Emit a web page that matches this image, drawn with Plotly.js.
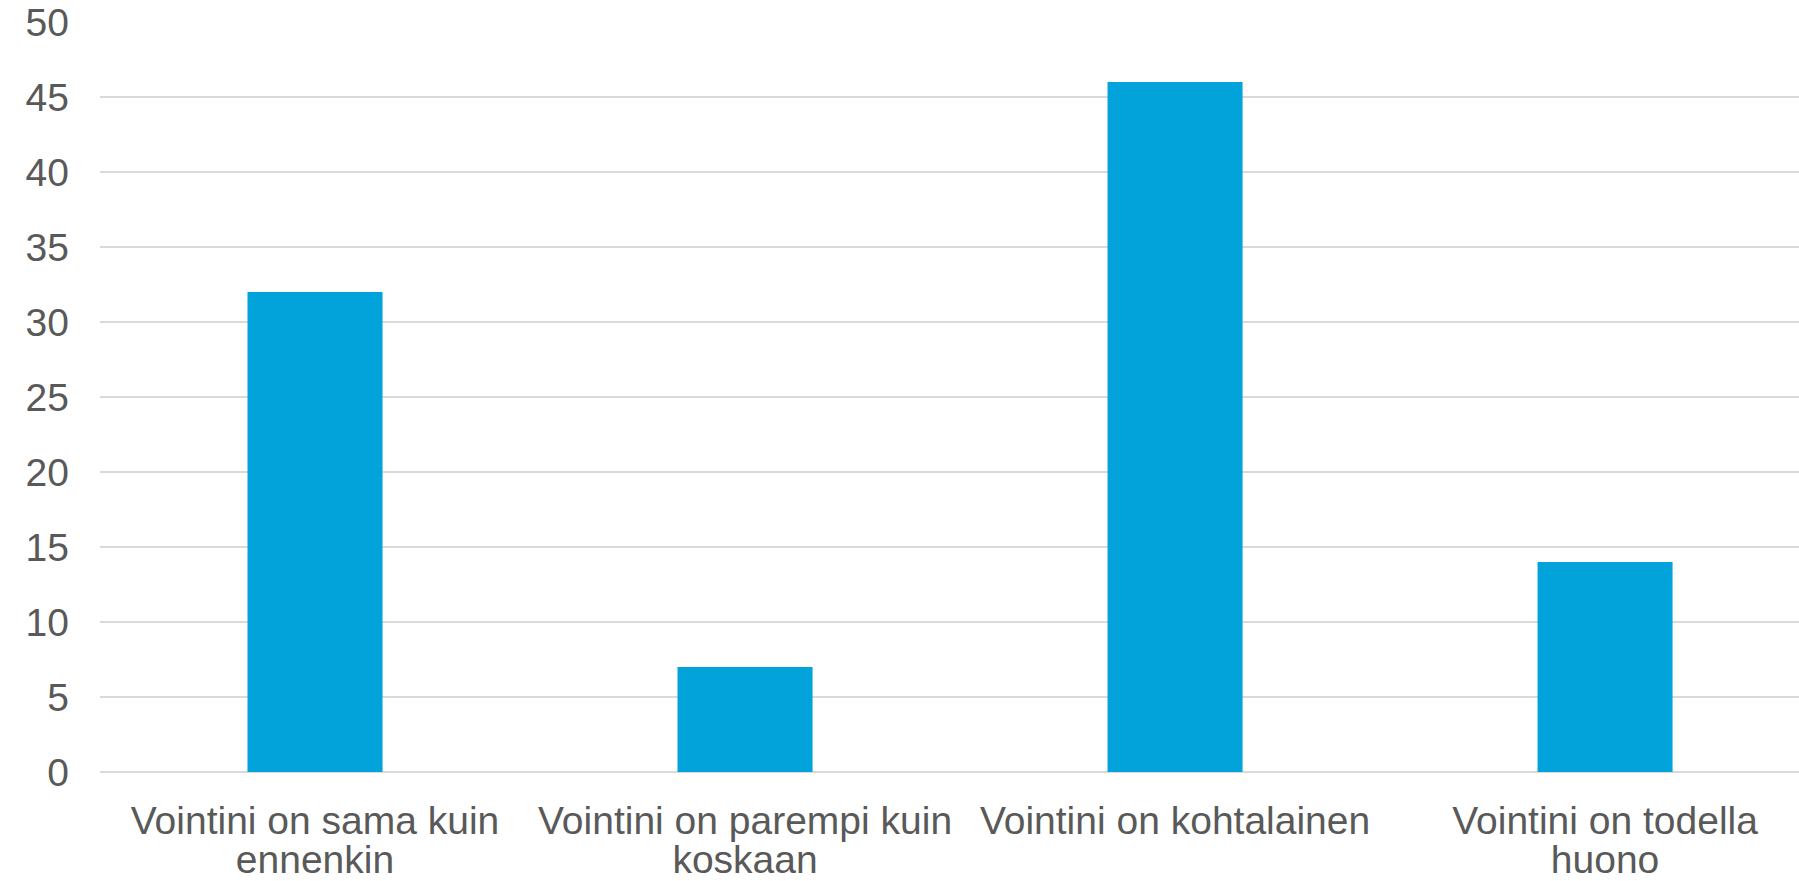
<!DOCTYPE html>
<html>
<head>
<meta charset="utf-8">
<script src="https://cdn.plot.ly/plotly-3.0.1.min.js"></script>
<style>
  html, body { margin: 0; padding: 0; background: #fff; }
  #chart { width: 1799px; height: 881px; }
</style>
</head>
<body>
<div id="chart"></div>
<script>
// categories and counts
// each label is split in two lines: first line on x, second line on x2
var labelLine1 = [
  'Vointini on sama kuin',
  'Vointini on parempi kuin',
  'Vointini on kohtalainen',
  'Vointini on todella'
];
var labelLine2 = ['ennenkin', 'koskaan', '', 'huono'];
var counts = [32, 7, 46, 14];
var yTicks = [0, 5, 10, 15, 20, 25, 30, 35, 40, 45, 50];
var positions = [0, 1, 2, 3];

var textColor = '#595959';
var gridColor = '#d9d9d9';
var fontSize = 39;

var bars = {
  type: 'bar',
  x: positions,
  y: counts,
  marker: { color: '#02a3da', line: { width: 0 } },
  hoverinfo: 'none'
};

// invisible trace so the second-line axis gets drawn
var secondLine = {
  type: 'scatter',
  mode: 'none',
  x: positions,
  y: counts,
  xaxis: 'x2',
  hoverinfo: 'none'
};

var xRange = [-0.5, 3.451];

function catAxis(text, standoff) {
  return {
    range: xRange,
    tickmode: 'array',
    tickvals: positions,
    ticktext: text,
    tickangle: 0,
    showgrid: false,
    zeroline: false,
    showline: false,
    ticks: '',
    ticklabelstandoff: standoff,
    tickfont: { size: fontSize, color: textColor }
  };
}

var x2 = catAxis(labelLine2, 61);
x2.overlaying = 'x';
x2.anchor = 'y';
x2.side = 'bottom';

var layout = {
  width: 1799,
  height: 881,
  margin: { l: 100, r: 0, t: 22, b: 109 },
  paper_bgcolor: '#fff',
  plot_bgcolor: '#fff',
  showlegend: false,
  bargap: 0.686,
  font: { family: 'Liberation Sans, Arial, sans-serif', size: fontSize, color: textColor },
  xaxis: catAxis(labelLine1, 22),
  xaxis2: x2,
  yaxis: {
    range: [0, 50],
    tickmode: 'array',
    tickvals: yTicks,
    showgrid: true,
    gridcolor: gridColor,
    gridwidth: 2,
    zeroline: true,
    zerolinecolor: gridColor,
    zerolinewidth: 2,
    showline: false,
    ticks: '',
    ticklabelstandoff: 30,
    tickfont: { size: fontSize, color: textColor }
  }
};

Plotly.newPlot('chart', [bars, secondLine], layout, { staticPlot: true, displayModeBar: false });
</script>
</body>
</html>
